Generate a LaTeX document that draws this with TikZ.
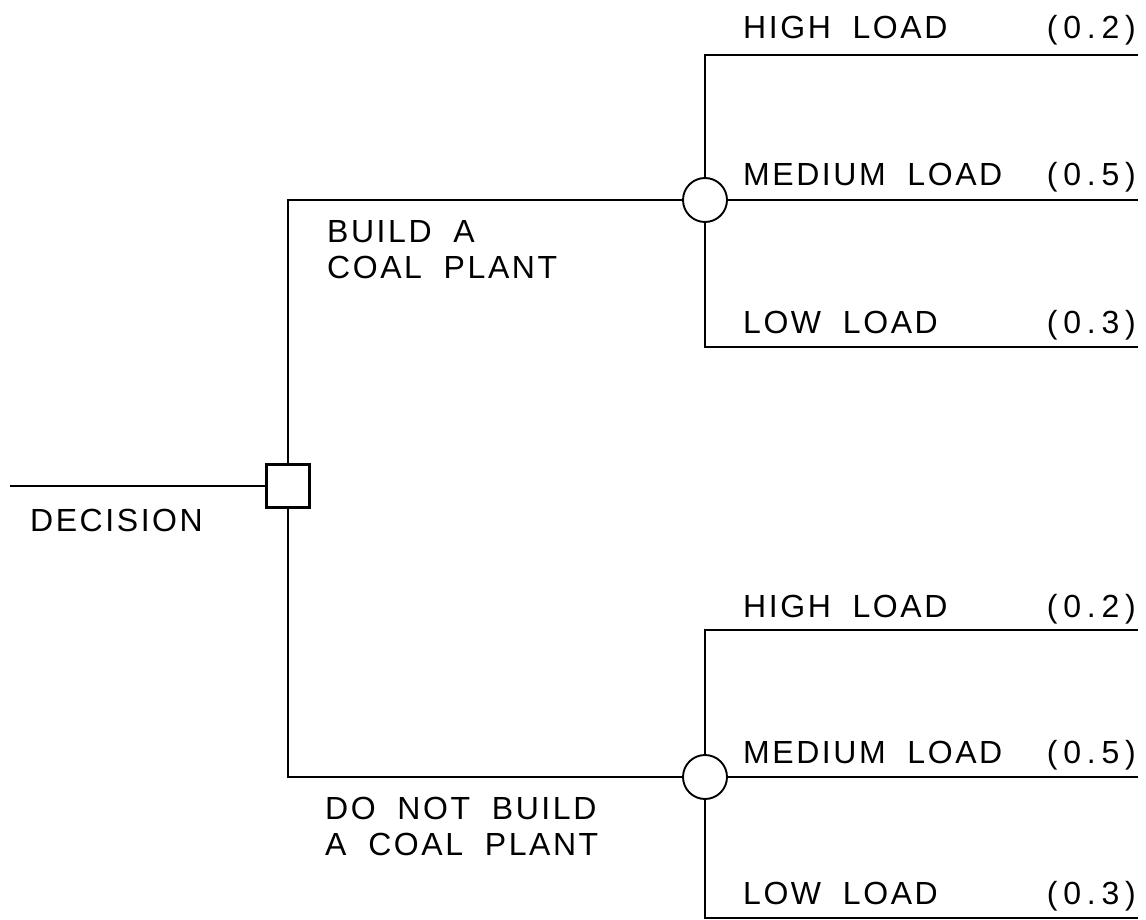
\documentclass[tikz,border=0pt]{standalone}
\usepackage{fontspec}
\setmainfont{Liberation Sans}[LetterSpace=8,WordSpace=1.9]
\newfontfamily\probfont{Liberation Sans}[LetterSpace=18]
\usepackage{tikz}
\usetikzlibrary{positioning}
\tikzset{
  wire/.style={line width=1.8pt},
  choice/.style={draw,line width=2.6pt,minimum size=43pt,inner sep=0pt},
  chance/.style={draw,circle,line width=1.9pt,minimum size=44pt,inner sep=0pt},
  lbl/.style={anchor=base west,inner sep=0pt,font=\fontsize{32}{36}\selectfont,align=left},
  prob/.style={anchor=base east,inner sep=0pt,font=\probfont\fontsize{32}{36}\selectfont},
}

\begin{document}
\begin{tikzpicture}[x=1pt,y=-1pt]
\useasboundingbox (0,0) rectangle (1146,920);
\node[choice] (dec) at (288,486) {};
\node[chance] (topc) at (705,200) {};
\node[chance] (botc) at (705,777) {};
\coordinate (in) at (10,486);
\coordinate (tH) at (1138,55);
\coordinate (tM) at (1138,200);
\coordinate (tL) at (1138,347);
\coordinate (bH) at (1138,630);
\coordinate (bM) at (1138,777);
\coordinate (bL) at (1138,918);
% decision and its two acts
\draw[wire] (in) -- (dec.west);
\draw[wire] (dec.north) |- (topc.west);
\draw[wire] (dec.south) |- (botc.west);
% outcomes
\draw[wire] (topc.north) |- (tH);
\draw[wire] (topc.east) -- (tM);
\draw[wire] (topc.south) |- (tL);
\draw[wire] (botc.north) |- (bH);
\draw[wire] (botc.east) -- (bM);
\draw[wire] (botc.south) |- (bL);
% labels
\node[lbl] (declbl) at (30,531) {DECISION};
\node[lbl] (buildlbl) at (327,279) {BUILD A\\COAL PLANT};
\node[lbl] (nobuildlbl) at (325,855) {DO NOT BUILD\\A COAL PLANT};
\node[lbl] (tHlbl) at (743,39) {HIGH LOAD};
\node[lbl] (tMlbl) at (743,186) {MEDIUM LOAD};
\node[lbl] (tLlbl) at (743,333) {LOW LOAD};
\node[lbl] (bHlbl) at (743,617) {HIGH LOAD};
\node[lbl] (bMlbl) at (743,763) {MEDIUM LOAD};
\node[lbl] (bLlbl) at (743,904) {LOW LOAD};
\node[prob] (tHp) at (1136,39) {(0.2)};
\node[prob] (tMp) at (1136,186) {(0.5)};
\node[prob] (tLp) at (1136,333) {(0.3)};
\node[prob] (bHp) at (1136,617) {(0.2)};
\node[prob] (bMp) at (1136,763) {(0.5)};
\node[prob] (bLp) at (1136,904) {(0.3)};
\end{tikzpicture}
\end{document}
